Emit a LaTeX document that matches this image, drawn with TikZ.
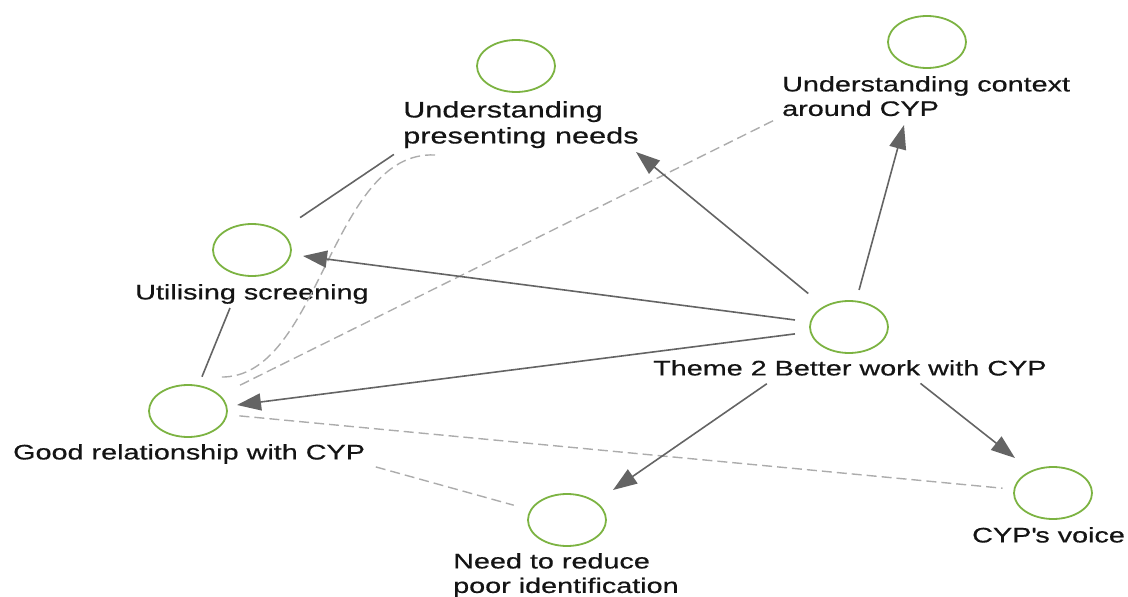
\documentclass[tikz,border=0pt]{standalone}
\usepackage{fontspec}
\newfontfamily\lab[FakeStretch=1.37,FakeBold=0.6]{Liberation Sans}
\usetikzlibrary{shapes.geometric,arrows.meta}
\definecolor{cgreen}{RGB}{124,179,66}
\definecolor{cline}{RGB}{100,100,100}
\definecolor{cdash}{RGB}{172,172,172}
\begin{document}
\begin{tikzpicture}[x=1pt,y=-1pt,
  circ/.style={ellipse,draw=cgreen,line width=1.8pt,minimum width=78pt,minimum height=52pt,inner sep=0pt},
  lbl/.style={font=\lab\fontsize{21}{24.5}\selectfont,inner sep=0pt,anchor=north west,align=left,text=black!92},
  arr/.style={draw=cline,line width=1.6pt,-{Triangle[length=24pt,width=17pt]}},
  sln/.style={draw=cline,line width=1.6pt},
  dsh/.style={draw=cdash,line width=1.4pt,dash pattern=on 10pt off 5pt}]
\useasboundingbox (0,0) rectangle (1128,597);

% nodes
\node[circ] (upn) at (516,66) {};
\node[lbl,font=\lab\fontsize{22.4}{26}\selectfont] (upnlab) at (403,101) {Understanding\\presenting needs};
\node[circ] (uc) at (927,42) {};
\node[lbl] (uclab) at (782,76) {Understanding context\\around CYP};
\node[circ] (us) at (252,250) {};
\node[lbl] (uslab) at (135,284) {Utilising screening};
\node[circ] (th) at (849,327) {};
\node[lbl] (thlab) at (653,360) {Theme 2 Better work with CYP};
\node[circ] (gr) at (188,411) {};
\node[lbl] (grlab) at (13,444) {Good relationship with CYP};
\node[circ] (nr) at (567,520) {};
\node[lbl] (nrlab) at (453,553) {Need to reduce\\poor identification};
\node[circ] (cv) at (1053,493) {};
\node[lbl] (cvlab) at (972,527) {CYP\textquotesingle s voice};

% free ends
\coordinate (tupn) at (636,152);
\coordinate (tuc) at (904,125);
\coordinate (tus) at (303,256);
\coordinate (tgr) at (237,405);
\coordinate (tnr) at (613,490);
\coordinate (tcv) at (1015,458);
\coordinate (usb) at (230,308);
\coordinate (cva) at (435,155);
\coordinate (cvb) at (220,377);

% dashed
\draw[dsh,shorten <=10pt,shorten >=20pt] (uclab.south west) -- (gr);
\draw[dsh] (cva) .. controls (330,150) and (320,380) .. (cvb);
\draw[dsh,shorten <=12pt,shorten >=11pt] (gr) -- (cv);
\draw[dsh,shorten <=11pt,shorten >=17pt] (grlab.south east) -- (nr);

% solid
\draw[sln,shorten <=11pt,shorten >=24pt] (upnlab.south west) -- (us);
\draw[sln,shorten <=9pt] (gr) -- (usb);

% arrows
\draw[arr,shorten <=20pt] (th) -- (tupn);
\draw[arr,shorten <=11pt] (th) -- (tuc);
\draw[arr,shorten <=15pt] (th) -- (tus);
\draw[arr,shorten <=15pt] (th) -- (tgr);
\draw[arr,shorten <=66pt] (th) -- (tnr);
\draw[arr,shorten <=58pt] (th) -- (tcv);
\end{tikzpicture}
\end{document}
